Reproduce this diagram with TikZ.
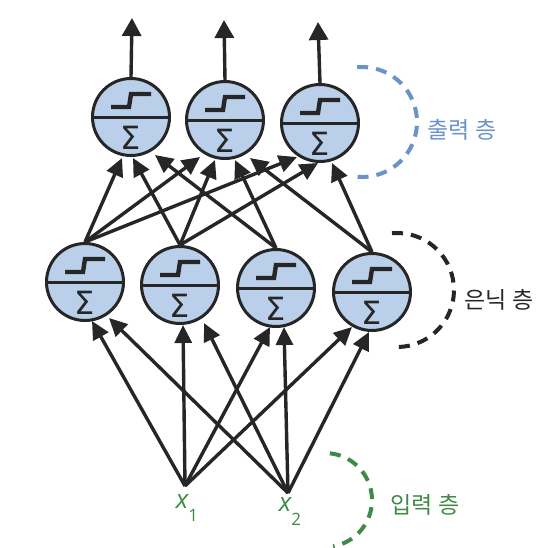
\documentclass[tikz,border=0pt]{standalone}
\usepackage{fontspec}
\setmainfont{Liberation Sans}
\newfontfamily\krfont{Noto Sans CJK KR}
\newfontfamily\labfont{Open Sans}
\newfontfamily\sigfont{DejaVu Sans}
\usetikzlibrary{arrows.meta}
\definecolor{nfill}{HTML}{BACFEA}
\definecolor{ink}{HTML}{262626}
\definecolor{lblue}{HTML}{6A93C8}
\definecolor{lgreen}{HTML}{3F8A46}
\newcommand\neuron[3]{%
  \node[neuron] (#1) at (#2,#3) {};
  \draw[divider] (#1.west) -- (#1.east);
  \draw[stepline] ([shift={(-20,10)}]#1.center) -- ([shift={(-2,10)}]#1.center)
     -- ([shift={(0,23)}]#1.center) -- ([shift={(20,23)}]#1.center);
  \node[sigma] (#1s) at ([shift={(0,-21)}]#1.center) {\sigfont\fontsize{32}{32}\selectfont Σ};
}
\begin{document}
\begin{tikzpicture}[x=1pt,y=1pt,
  neuron/.style={circle,draw=ink,fill=nfill,line width=3pt,minimum size=77pt,inner sep=0pt},
  divider/.style={draw=ink,line width=3pt},
  stepline/.style={draw=ink,line width=4.4pt,line join=miter},
  sigma/.style={text=ink,inner sep=0pt},
  conn/.style={draw=ink,line width=3.4pt,-{Triangle[length=18pt,width=17pt]}},
  outarrow/.style={draw=ink,line width=3.4pt,-{Triangle[length=18pt,width=19pt]}},
  layerarc/.style={line width=4pt,dash pattern=on 11pt off 8pt},
  krlab/.style={font=\krfont\fontsize{23}{23}\selectfont,inner sep=0pt},
  xlab/.style={font=\labfont\fontsize{26}{26}\selectfont\itshape,text=lgreen,inner sep=0pt,anchor=base}
]
\useasboundingbox (0,0) rectangle (555,-547);
\fill[white] (0,0) rectangle (555,-547);

% output layer
\neuron{o1}{131}{-117}
\neuron{o2}{225}{-120}
\neuron{o3}{320}{-123}
% hidden layer
\neuron{h1}{85}{-282}
\neuron{h2}{180}{-285}
\neuron{h3}{276}{-288}
\neuron{h4}{372}{-292}

% inputs
\coordinate (x1) at (185,-486);
\coordinate (x2) at (288,-493);
\node[xlab] (lx1) at (187,-508) {x\raisebox{-13pt}{\fontsize{17}{17}\selectfont\upshape 1}};
\node[xlab] (lx2) at (290,-511) {x\raisebox{-14pt}{\fontsize{17}{17}\selectfont\upshape 2}};

% output arrows
\coordinate (t1) at (132,-18);
\coordinate (t2) at (224,-20);
\coordinate (t3) at (318,-22);
\draw[outarrow] (o1.north) -- (t1);
\draw[outarrow] (o2.north) -- (t2);
\draw[outarrow] (o3.north) -- (t3);

% input -> hidden
\draw[conn] (x1) -- ([shift={(7,-39)}]h1.center);
\draw[conn] (x2) -- ([shift={(24,-36)}]h1.center);
\draw[conn] (x1) -- ([shift={(3,-40)}]h2.center);
\draw[conn] (x2) -- ([shift={(24,-38)}]h2.center);
\draw[conn] (x1) -- ([shift={(-6,-39)}]h3.center);
\draw[conn] (x2) -- ([shift={(8,-39)}]h3.center);
\draw[conn] (x1) -- ([shift={(-20,-35)}]h4.center);
\draw[conn] (x2) -- ([shift={(-3,-40)}]h4.center);

% hidden -> output
\draw[conn] (h1.north) -- ([shift={(-9,-41)}]o1.center);
\draw[conn] (h2.north) -- ([shift={(2,-41)}]o1.center);
\draw[conn] (h3.north) -- ([shift={(24,-38)}]o1.center);
\draw[conn] (h1.north) -- ([shift={(-25,-37)}]o2.center);
\draw[conn] (h2.north) -- ([shift={(-10,-40)}]o2.center);
\draw[conn] (h3.north) -- ([shift={(10,-40)}]o2.center);
\draw[conn] (h4.north) -- ([shift={(25,-38)}]o2.center);
\draw[conn] (h1.north) -- ([shift={(-23,-34)}]o3.center);
\draw[conn] (h2.north) -- ([shift={(-2,-40)}]o3.center);
\draw[conn] (h4.north) -- ([shift={(12,-40)}]o3.center);

% layer brackets
\draw[layerarc,draw=lblue] (357.2,-67.2) arc[start angle=95,end angle=-95,radius=55];
\draw[layerarc,draw=ink] (392.0,-233.2) arc[start angle=95,end angle=-92,radius=57];
\draw[layerarc,draw=lgreen] (329.9,-453.3) arc[start angle=84,end angle=-80,radius=47];

\node[krlab,text=lblue] (lo) at (462,-130) {출력 층};
\node[krlab,text=ink] (lh) at (499,-300) {은닉 층};
\node[krlab,text=lgreen] (li) at (425,-505) {입력 층};
\end{tikzpicture}
\end{document}
